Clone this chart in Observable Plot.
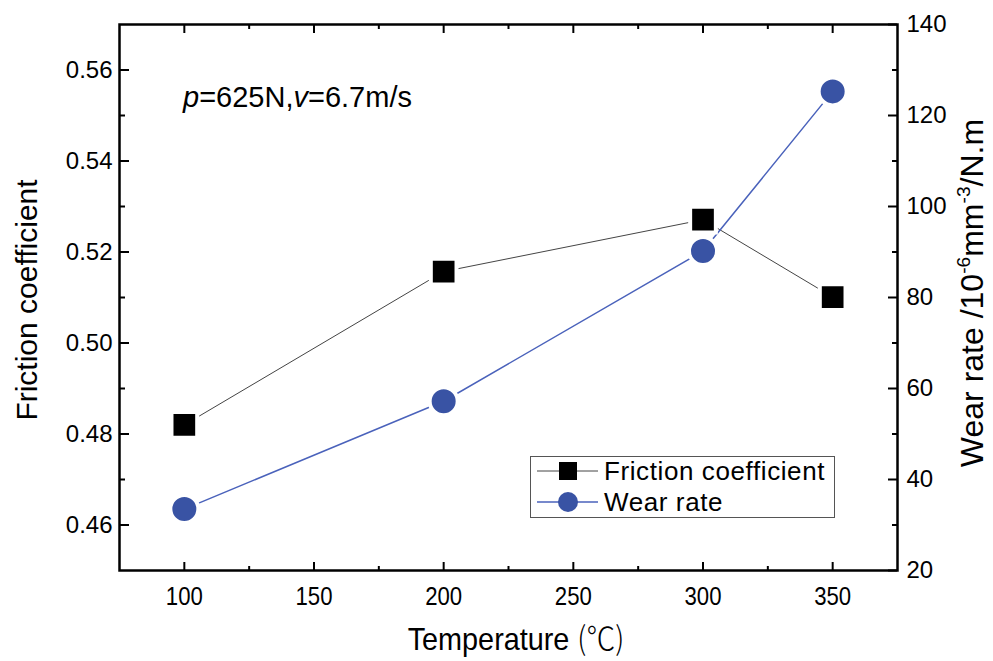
<!DOCTYPE html>
<html><head><meta charset="utf-8">
<script src="https://cdn.jsdelivr.net/npm/d3@7"></script>
<script src="https://cdn.jsdelivr.net/npm/@observablehq/plot@0.6"></script>
<style>
body{margin:0;background:#fff;}
#wrap{position:relative;width:993px;height:661px;font-family:"Liberation Sans",Arial,sans-serif;background:#fff;}
.abs{position:absolute;white-space:nowrap;color:#000;line-height:1;}
.rot{transform:translate(-50%,-50%) rotate(-90deg);}
sup{font-size:0.6em;vertical-align:0.7em;line-height:0;}
</style></head><body><div id="wrap"></div>
<script>
// ---- data ----
const temperature = [100, 200, 300, 350];
const friction = [0.482, 0.5157, 0.5271, 0.5101];
const wearRate = [33.5, 57.2, 90.2, 125.3];
const xTicks = [100, 150, 200, 250, 300, 350];
const xMinorTicks = [125, 175, 225, 275, 325];
const frictionTicks = [0.46, 0.48, 0.50, 0.52, 0.54, 0.56];
const frictionMinorTicks = [0.47, 0.49, 0.51, 0.53, 0.55];
const wearTicks = [20, 40, 60, 80, 100, 120, 140];
const wearMinorTicks = [30, 50, 70, 90, 110, 130];
const frictionDomain = [0.45, 0.57];
const wearDomain = [20, 140];
const xDomain = [75, 375];

// map wear-rate values onto the left (friction) scale
const toLeft = w => frictionDomain[0] + (w - wearDomain[0]) / (wearDomain[1] - wearDomain[0]) * (frictionDomain[1] - frictionDomain[0]);
const fromLeft = f => Math.round(wearDomain[0] + (f - frictionDomain[0]) / (frictionDomain[1] - frictionDomain[0]) * (wearDomain[1] - wearDomain[0]));

const rows = temperature.map((t, i) => ({t, f: friction[i], w: wearRate[i], wy: toLeft(wearRate[i])}));

const W = 993, H = 661, ML = 119, MR = 96, MT = 24, MB = 91;
const PW = W - ML - MR, PH = H - MT - MB;
const FONT = "Liberation Sans, Arial, sans-serif";
const none = () => "";
const tk = {strokeWidth: 2, label: null, tickFormat: none};

const chart = Plot.plot({
  width: W, height: H,
  marginLeft: ML, marginRight: MR, marginTop: MT, marginBottom: MB,
  style: {fontFamily: FONT, color: "#000", background: "#fff", overflow: "visible"},
  x: {domain: xDomain},
  y: {domain: frictionDomain},
  marks: [
    // inward ticks: bottom edge
    Plot.axisX(xTicks, {...tk, anchor: "top", tickSize: 9, dy: PH}),
    Plot.axisX(xMinorTicks, {...tk, anchor: "top", tickSize: 5, dy: PH}),
    // inward ticks: top edge
    Plot.axisX(xTicks, {...tk, anchor: "bottom", tickSize: 9, dy: -PH}),
    Plot.axisX(xMinorTicks, {...tk, anchor: "bottom", tickSize: 5, dy: -PH}),
    // inward ticks: left edge
    Plot.axisY(frictionTicks, {...tk, anchor: "right", tickSize: 9, dx: -PW}),
    Plot.axisY(frictionMinorTicks, {...tk, anchor: "right", tickSize: 5, dx: -PW}),
    // inward ticks: right edge
    Plot.axisY(wearTicks.map(toLeft), {...tk, anchor: "left", tickSize: 9, dx: PW}),
    Plot.axisY(wearMinorTicks.map(toLeft), {...tk, anchor: "left", tickSize: 5, dx: PW}),
    // tick labels
    Plot.axisX(xTicks, {anchor: "bottom", tickSize: 0, tickPadding: 17, fontSize: 25, label: null}),
    Plot.axisY(frictionTicks, {anchor: "left", tickSize: 0, tickPadding: 7, fontSize: 24, tickFormat: d => d.toFixed(2), label: null}),
    Plot.axisY(wearTicks.map(toLeft), {anchor: "right", tickSize: 0, tickPadding: 9, fontSize: 24, tickFormat: fromLeft, label: null}),
    // series
    Plot.line(rows, {x: "t", y: "f", stroke: "#444", strokeWidth: 1}),
    Plot.line(rows, {x: "t", y: "wy", stroke: "#4a62bb", strokeWidth: 1.5}),
    Plot.dot(rows, {x: "t", y: "f", symbol: "square", r: 14.5, fill: "#000", stroke: "#fff", strokeWidth: 4}),
    Plot.dot(rows, {x: "t", y: "wy", r: 14, fill: "#3953a4", stroke: "#fff", strokeWidth: 4}),
    Plot.frame({stroke: "#000", strokeWidth: 2.5})
  ]
});

// condensed look of the x tick labels (as in the reference)
d3.select(chart).selectAll('g[aria-label="x-axis tick label"] text')
  .attr("textLength", 37).attr("lengthAdjust", "spacingAndGlyphs");

const wrap = document.getElementById("wrap");
wrap.appendChild(chart);

function addDiv(html, css, cls) {
  const d = document.createElement("div");
  d.className = "abs " + (cls || "");
  d.innerHTML = html;
  Object.assign(d.style, css);
  wrap.appendChild(d);
  return d;
}

// annotation
addDiv('<i>p</i>=625N,<i>v</i>=6.7m/s', {left: "183px", top: "83px", fontSize: "29px"});

// axis titles
addDiv('Temperature <span style="font-family:\'Noto Sans CJK SC\';font-weight:300">(℃)</span>', {left: "516px", top: "637px", fontSize: "32px", transform: "translate(-50%,-50%) scaleX(0.9)"});
addDiv('Friction coefficient', {left: "27px", top: "300px", fontSize: "30px"}, "rot");
addDiv('Wear rate /10<sup>-6</sup>mm<sup>-3</sup>/N.m', {left: "972px", top: "293px", fontSize: "32px"}, "rot");

// legend box
addDiv(`
<svg width="305" height="62" style="display:block">
  <rect x="0.5" y="0.5" width="304" height="61" fill="#fff" stroke="#555" stroke-width="1"/>
  <line x1="7" x2="68" y1="15" y2="15" stroke="#444" stroke-width="1"/>
  <rect x="29" y="6" width="18" height="18" fill="#000"/>
  <line x1="7" x2="68" y1="46" y2="46" stroke="#4a62bb" stroke-width="1.5"/>
  <circle cx="38" cy="46" r="10" fill="#3953a4"/>
  <text x="74" y="24" font-size="26" letter-spacing="0.6" font-family="${FONT}">Friction coefficient</text>
  <text x="74" y="55" font-size="26" letter-spacing="0.6" font-family="${FONT}">Wear rate</text>
</svg>`, {left: "530px", top: "456px"});
</script>
</body></html>
